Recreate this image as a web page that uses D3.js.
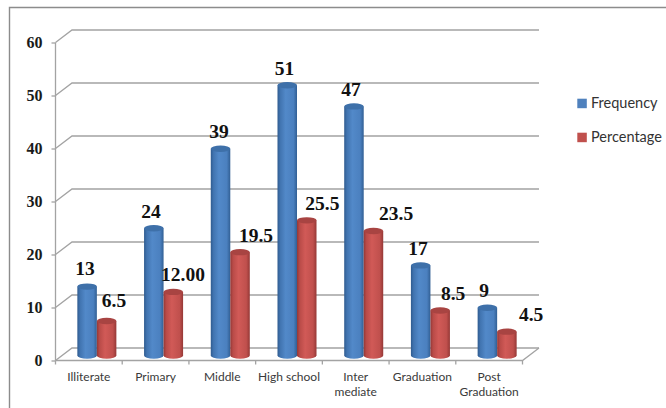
<!DOCTYPE html>
<html>
<head>
<meta charset="utf-8">
<script src="https://cdnjs.cloudflare.com/ajax/libs/d3/7.8.5/d3.min.js"></script>
<style>
html,body{margin:0;padding:0;background:#fff;overflow:hidden}
svg{display:block}
</style>
</head>
<body>
<svg id="chart" width="666" height="408"></svg>
<script>
const categories = ["Illiterate","Primary","Middle","High school","Inter mediate","Graduation","Post Graduation"];
const frequency = [13,24,39,51,47,17,9];
const percentage = [6.5,12,19.5,25.5,23.5,8.5,4.5];
const percentageText = ["6.5","12.00","19.5","25.5","23.5","8.5","4.5"];
const yTicks = [0,10,20,30,40,50,60];
const seriesNames = ["Frequency","Percentage"];
const seriesColors = ["#4f81bd","#c0504d"];

// Data labels sit where they were placed by hand, nudged from each column top.
const freqNudge = [[-2,-11.6],[-2.8,-10.3],[-1.5,-10.8],[-2.7,-10.5],[-2.9,-10.7],[-2.6,-10.4],[-3.3,-10.8]];
const pctNudge = [[7.4,-14],[9.7,-11.2],[16,-10.5],[15.6,-10.4],[22.6,-11],[12.9,-10.4],[24.2,-10.9]];

const svg = d3.select("#chart");
const plot = {x0:55.5, x1:522.5, y0:360.5, y1:42.5, depthX:16.5, depthY:-12.5};

const x = d3.scaleBand().domain(categories).range([plot.x0, plot.x1]);
const y = d3.scaleLinear().domain([0,60]).range([plot.y0, plot.y1]);
const inner = d3.scaleBand().domain(seriesNames).range([0, x.bandwidth()]).paddingInner(0).paddingOuter(0.71);

// Cylinder shading, dark at both edges and lit a little left of centre.
const defs = svg.append("defs");
[["Frequency","#2f5b8f","#4174b0","#5289c9","#4b80bf","#315f94"],
 ["Percentage","#943836","#b94b48","#d15a57","#c0504d","#953836"]].forEach(([name,a,b,c,d,e])=>{
  const g = defs.append("linearGradient").attr("id","cyl"+name);
  [[0,a],[.14,b],[.42,c],[.82,d],[1,e]].forEach(([o,col])=>g.append("stop").attr("offset",o).attr("stop-color",col));
});

const grey = "#a3a3a3";

// Chart frame
svg.append("path").attr("d","M9.5,408V7.5H666").attr("fill","none").attr("stroke","#8c8c8c").attr("stroke-width",1.4);

// Back wall gridlines and their slanted returns to the axis
const grid = svg.append("g").attr("fill","none").attr("stroke",grey).attr("stroke-width",1.3);
yTicks.forEach(t=>{
  grid.append("path").attr("d",`M${plot.x0},${y(t)}L${plot.x0+plot.depthX},${y(t)+plot.depthY}H${plot.x1+plot.depthX}`);
});
// Floor edge
grid.append("path").attr("d",`M${plot.x0},${y(0)}H${plot.x1}L${plot.x1+plot.depthX},${y(0)+plot.depthY}`);
// Vertical axis
grid.append("path").attr("d",`M${plot.x0},${y(0)}V${y(60)}`);

// Value axis
const yAxis = d3.axisLeft(y).tickValues(yTicks).tickSize(4).tickPadding(9).tickFormat(d3.format("d"));
const yG = svg.append("g").attr("transform",`translate(${plot.x0},0)`).call(yAxis);
yG.select(".domain").remove();
yG.selectAll("line").attr("stroke",grey).attr("stroke-width",1.3);
yG.selectAll("text").attr("font-family","'Liberation Serif'").attr("font-weight","bold").attr("font-size",16).attr("fill","#1a1a1a");

// Category axis
const xG = svg.append("g").attr("transform",`translate(0,${y(0)})`);
x.domain().forEach((c,i)=>{
  const left = x(c);
  xG.append("line").attr("x1",left).attr("x2",left).attr("y1",0).attr("y2",4).attr("stroke",grey).attr("stroke-width",1.3);
  if(i===categories.length-1) xG.append("line").attr("x1",left+x.bandwidth()).attr("x2",left+x.bandwidth()).attr("y1",0).attr("y2",4).attr("stroke",grey).attr("stroke-width",1.3);
  const words = c === "High school" ? [c] : c.split(" ");
  const label = xG.append("text").attr("text-anchor","middle").attr("font-family","Lato").attr("font-size",12).attr("fill","#3a3a3a");
  words.forEach((w,k)=>label.append("tspan").attr("x",left+x.bandwidth()/2).attr("y",20.5+k*15).text(w));
});

// Columns: bodies first, elliptical caps on top
const barOffsetX = 8, barOffsetY = -5, capRy = 3.2;
const series = [["Frequency",frequency],["Percentage",percentage]];
const bars = svg.append("g");
series.forEach(([name,values])=>{
  const w = inner.bandwidth();
  const g = bars.append("g").selectAll("g").data(values).join("g");
  const cx = (d,i)=>x(categories[i])+inner(name)+w/2+barOffsetX;
  const top = d=>y(d)+barOffsetY;
  const base = y(0)+barOffsetY;
  g.append("path")
    .attr("d",(d,i)=>{
      const l=cx(d,i)-w/2, r=cx(d,i)+w/2;
      return `M${l},${top(d)}V${base}A${w/2},${capRy} 0 0 0 ${r},${base}V${top(d)}Z`;
    })
    .attr("fill",`url(#cyl${name})`);
  g.append("ellipse")
    .attr("cx",(d,i)=>cx(d,i)).attr("cy",d=>top(d)).attr("rx",w/2).attr("ry",capRy)
    .attr("fill",name==="Frequency"?"#3e70a9":"#a84442");
});

// Data labels
const labels = svg.append("g").attr("font-family","'Liberation Serif'").attr("font-weight","bold").attr("font-size",19.5).attr("fill","#111").attr("text-anchor","middle");
frequency.forEach((v,i)=>{
  labels.append("text")
    .attr("x",x(categories[i])+inner("Frequency")+inner.bandwidth()/2+barOffsetX+freqNudge[i][0])
    .attr("y",y(v)+barOffsetY+freqNudge[i][1]).text(v);
});
percentage.forEach((v,i)=>{
  labels.append("text")
    .attr("x",x(categories[i])+inner("Percentage")+inner.bandwidth()/2+barOffsetX+pctNudge[i][0])
    .attr("y",y(v)+barOffsetY+pctNudge[i][1]).text(percentageText[i]);
});

// Legend
const legend = svg.append("g");
seriesNames.forEach((n,i)=>{
  const row = legend.append("g").attr("transform",`translate(577.3,${98.7+i*34})`);
  row.append("rect").attr("width",9.5).attr("height",9.5).attr("fill",seriesColors[i]);
  row.append("text").attr("x",13.7).attr("y",9.5).attr("font-family","Lato").attr("font-size",14.5).attr("fill","#333").text(n);
});
</script>
</body>
</html>
